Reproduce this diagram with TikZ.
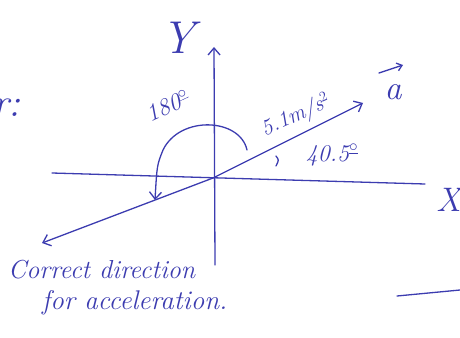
\documentclass[tikz,border=0pt]{standalone}
\usetikzlibrary{arrows.meta}
\definecolor{ink}{HTML}{3C3CB0}
\newcommand{\fs}[1]{\fontsize{#1}{#1}\selectfont}
\begin{document}
\begin{tikzpicture}[x=1pt,y=-1pt,
  pen/.style={draw=ink,line width=1.3pt,line cap=round},
  arr/.style={pen,-{Straight Barb[length=7pt,width=12pt]}},
  lbl/.style={text=ink,font=\itshape,inner sep=0pt}]
\useasboundingbox (0,0) rectangle (460,337);
\coordinate (O) at (213,178);
% axes
\coordinate (ybot) at (215,265);
\coordinate (ytop) at (214,47);
\draw[arr] (ybot) -- (ytop);
\coordinate (xl) at (52,173);
\coordinate (xr) at (425,184);
\draw[pen] (xl) -- (xr);
\node[lbl,font=\itshape\fs{46}] (Y) at (178,38) {Y};
\node[lbl,font=\itshape\fs{34},anchor=west] (X) at (436,200) {X};
% vector a
\coordinate (atip) at (363,103);
\draw[arr] (O) -- (atip);
\node[lbl,font=\itshape\fs{22},rotate=24] (mag) at (296,116) {5.1m/s$^2$};
\node[lbl,font=\itshape\fs{34}] (avec) at (393,92) {a};
\draw[pen,-{Straight Barb[length=5pt,width=8pt]}] ([xshift=-14pt,yshift=19pt]avec.center) -- ([xshift=10pt,yshift=27pt]avec.center);
% angle 40.5
\draw[pen] (276,156) .. controls (279,160) .. (276,166);
\node[lbl,font=\itshape\fs{24}] (ang) at (332,155) {40.5$^{\underline{\circ}}$};
% opposite vector
\coordinate (btip) at (42,243);
\draw[arr] (O) -- (btip);
% 180 arc
\draw[arr] (247,150) .. controls (240,118) and (180,115) .. (163,150) .. controls (157,165) .. (155,200);
\node[lbl,font=\itshape\fs{24},rotate=25] (half) at (168,106) {180$^{\underline{\circ}}$};
% labels
\node[lbl,font=\itshape\fs{26},anchor=west] (t1) at (8,270) {Correct direction};
\node[lbl,font=\itshape\fs{27},anchor=west] (t2) at (42,303) {for acceleration.};
\node[lbl,font=\itshape\fs{40},anchor=west] (r) at (-8,108) {r:};
% bottom right line
\coordinate (l1) at (397,296);
\coordinate (l2) at (460,290);
\draw[pen] (l1) -- (l2);
\end{tikzpicture}
\end{document}
